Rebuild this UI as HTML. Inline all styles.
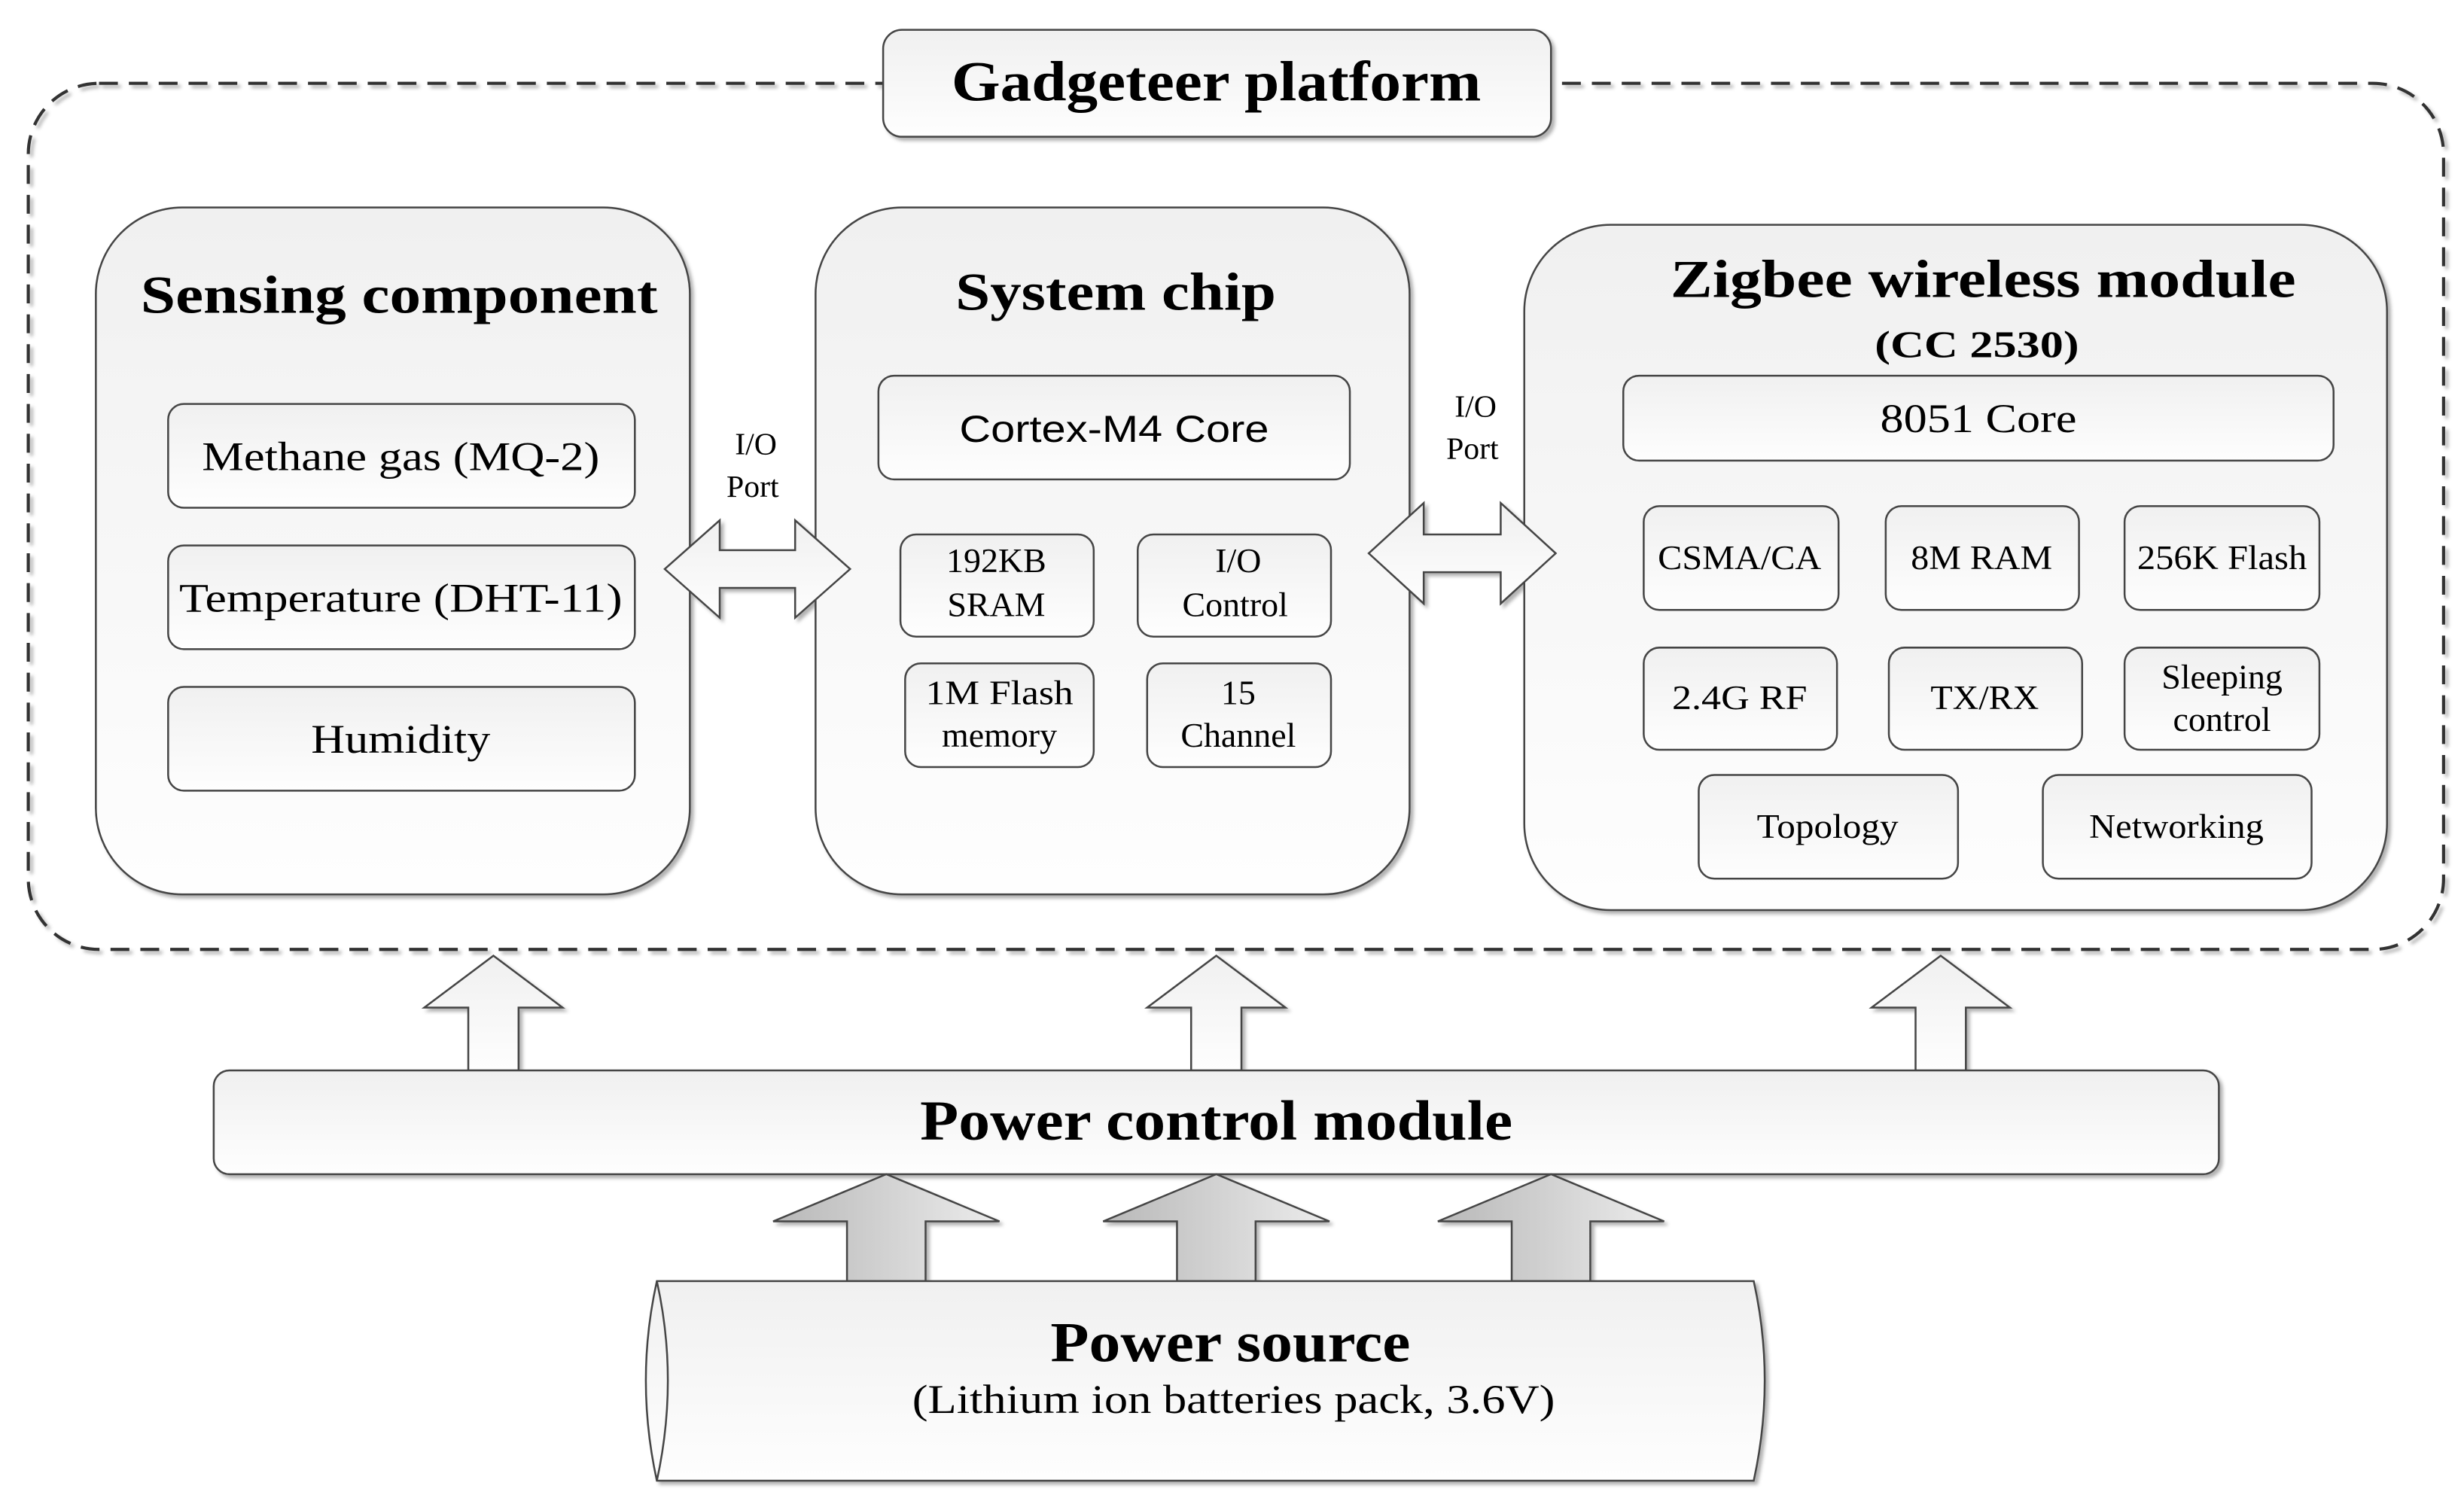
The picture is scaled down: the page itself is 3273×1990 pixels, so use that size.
<!DOCTYPE html>
<html><head><meta charset="utf-8"><style>
html,body{margin:0;padding:0;background:#fff;}
svg{display:block;}
text{font-family:"Liberation Serif",serif;fill:#000;text-anchor:middle;}
.b{font-weight:bold;}
.s{font-family:"Liberation Sans",sans-serif;}
</style></head><body>
<svg width="3273" height="1990" viewBox="0 0 1568 953" preserveAspectRatio="none" xmlns="http://www.w3.org/2000/svg">
<defs>
<linearGradient id="g" x1="0" y1="0" x2="0" y2="1"><stop offset="0" stop-color="#f0f0f0"/><stop offset="1" stop-color="#fefefe"/></linearGradient>
<linearGradient id="ga" x1="0" y1="0" x2="1" y2="0"><stop offset="0" stop-color="#b8b8b8"/><stop offset="1" stop-color="#ececec"/></linearGradient>
<filter id="sh" x="-5%" y="-5%" width="115%" height="120%"><feDropShadow dx="2" dy="2" stdDeviation="1.2" flood-color="#000" flood-opacity="0.3"/></filter>
</defs>
<g stroke="#444" stroke-width="1.2" fill="url(#g)" filter="url(#sh)">
<rect x="18" y="53" width="1537" height="551" rx="45" fill="none" stroke="#333" stroke-width="2" stroke-dasharray="12,7" filter="none"/>
<rect x="562" y="19" width="425" height="68" rx="12"/>
<rect x="61" y="132" width="378" height="437" rx="55"/>
<rect x="519" y="132" width="378" height="437" rx="55"/>
<rect x="970" y="143" width="549" height="436" rx="55"/>
<rect x="107" y="257" width="297" height="66" rx="10"/>
<rect x="107" y="347" width="297" height="66" rx="10"/>
<rect x="107" y="437" width="297" height="66" rx="10"/>
<rect x="559" y="239" width="300" height="66" rx="10"/>
<rect x="573" y="340" width="123" height="65" rx="10"/>
<rect x="724" y="340" width="123" height="65" rx="10"/>
<rect x="576" y="422" width="120" height="66" rx="10"/>
<rect x="730" y="422" width="117" height="66" rx="10"/>
<rect x="1033" y="239" width="452" height="54" rx="10"/>
<rect x="1046" y="322" width="124" height="66" rx="10"/>
<rect x="1200" y="322" width="123" height="66" rx="10"/>
<rect x="1352" y="322" width="124" height="66" rx="10"/>
<rect x="1046" y="412" width="123" height="65" rx="10"/>
<rect x="1202" y="412" width="123" height="65" rx="10"/>
<rect x="1352" y="412" width="124" height="65" rx="10"/>
<rect x="1081" y="493" width="165" height="66" rx="10"/>
<rect x="1300" y="493" width="171" height="66" rx="10"/>
<polygon points="423,362 458,331 458,350 506,350 506,331 541,362 506,393 506,374 458,374 458,393"/>
<polygon points="871,352 906,320 906,340 955,340 955,320 990,352 955,384 955,364 906,364 906,384"/>
<polygon points="314,608 358,641 330,641 330,681 298,681 298,641 270,641"/>
<polygon points="774,608 818,641 790,641 790,681 758,681 758,641 730,641"/>
<polygon points="1235,608 1279,641 1251,641 1251,681 1219,681 1219,641 1191,641"/>
<rect x="136" y="681" width="1276" height="66" rx="10"/>
<polygon fill="url(#ga)" points="564,747 636,777 589,777 589,815 539,815 539,777 492,777"/>
<polygon fill="url(#ga)" points="774,747 846,777 799,777 799,815 749,815 749,777 702,777"/>
<polygon fill="url(#ga)" points="987,747 1059,777 1012,777 1012,815 962,815 962,777 915,777"/>
<path d="M418,815 L1116,815 Q1130,878 1116,942 L418,942 Q404,878 418,815 Z"/>
<path d="M418,815 Q432,878 418,942" fill="none" filter="none"/>
</g>
<g>
<text x="774" y="64" class="b" font-size="36" textLength="337" lengthAdjust="spacingAndGlyphs">Gadgeteer platform</text>
<text x="254" y="199" class="b" font-size="34" textLength="329" lengthAdjust="spacingAndGlyphs">Sensing component</text>
<text x="710" y="197" class="b" font-size="34" textLength="204" lengthAdjust="spacingAndGlyphs">System chip</text>
<text x="1262" y="189" class="b" font-size="34" textLength="398" lengthAdjust="spacingAndGlyphs">Zigbee wireless module</text>
<text x="1258" y="227" class="b" font-size="24" textLength="130" lengthAdjust="spacingAndGlyphs">(CC 2530)</text>
<g font-size="26">
<text x="255" y="299" textLength="253" lengthAdjust="spacingAndGlyphs">Methane gas (MQ-2)</text>
<text x="255" y="389" textLength="282" lengthAdjust="spacingAndGlyphs">Temperature (DHT-11)</text>
<text x="255" y="479" textLength="114" lengthAdjust="spacingAndGlyphs">Humidity</text>
<text x="1259" y="275" textLength="125" lengthAdjust="spacingAndGlyphs">8051 Core</text>
</g>
<text x="709" y="281" class="s" font-size="24" textLength="197" lengthAdjust="spacingAndGlyphs">Cortex-M4 Core</text>
<g font-size="22">
<text x="634" y="364">192KB</text><text x="634" y="392">SRAM</text>
<text x="788" y="364">I/O</text><text x="786" y="392">Control</text>
<text x="636" y="448" textLength="94" lengthAdjust="spacingAndGlyphs">1M  Flash</text><text x="636" y="475">memory</text>
<text x="788" y="448">15</text><text x="788" y="475">Channel</text>
<text x="1107" y="362" textLength="104" lengthAdjust="spacingAndGlyphs">CSMA/CA</text>
<text x="1261" y="362" textLength="90" lengthAdjust="spacingAndGlyphs">8M RAM</text>
<text x="1414" y="362" textLength="108" lengthAdjust="spacingAndGlyphs">256K Flash</text>
<text x="1107" y="451" textLength="86" lengthAdjust="spacingAndGlyphs">2.4G  RF</text>
<text x="1263" y="451" textLength="69" lengthAdjust="spacingAndGlyphs">TX/RX</text>
<text x="1414" y="438">Sleeping</text><text x="1414" y="465">control</text>
<text x="1163" y="533" textLength="90" lengthAdjust="spacingAndGlyphs">Topology</text>
<text x="1385" y="533" textLength="111" lengthAdjust="spacingAndGlyphs">Networking</text>
</g>
<g font-size="20">
<text x="481" y="289">I/O</text><text x="479" y="316">Port</text>
<text x="939" y="265">I/O</text><text x="937" y="292">Port</text>
</g>
<text x="774" y="725" class="b" font-size="36" textLength="377" lengthAdjust="spacingAndGlyphs">Power control module</text>
<text x="783" y="866" class="b" font-size="36" textLength="229" lengthAdjust="spacingAndGlyphs">Power source</text>
<text x="785" y="899" font-size="26" textLength="409" lengthAdjust="spacingAndGlyphs">(Lithium ion batteries pack, 3.6V)</text>
</g>
</svg>
</body></html>
